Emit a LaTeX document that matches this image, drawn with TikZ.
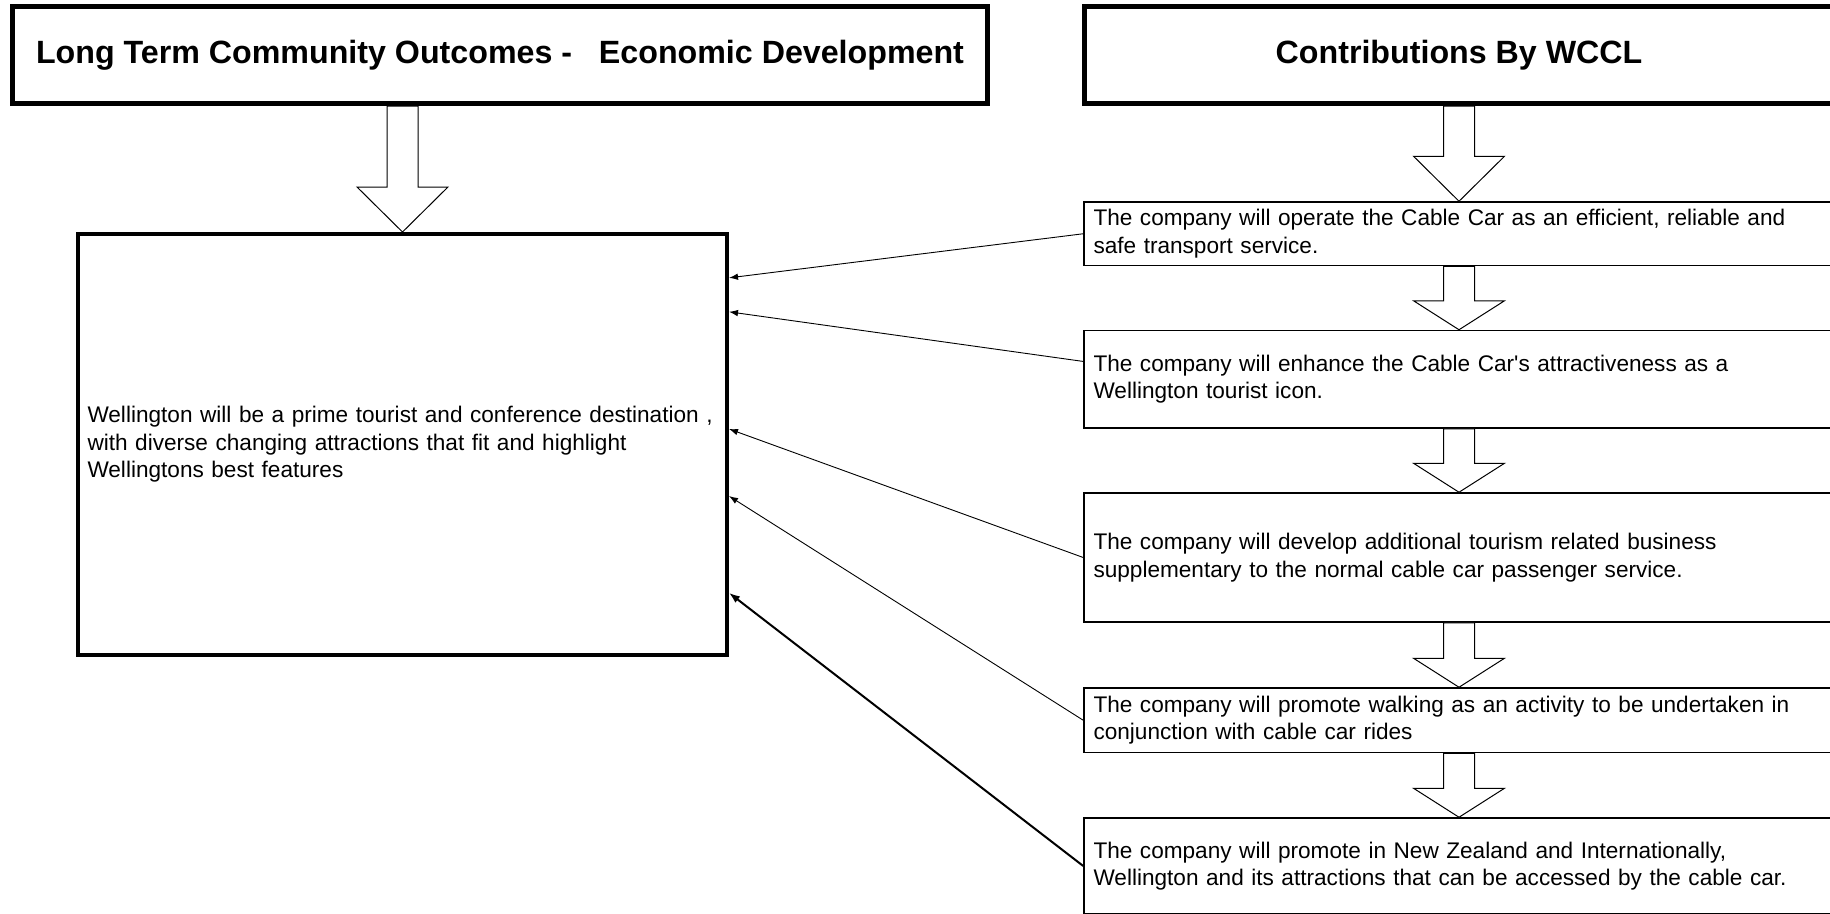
\documentclass[tikz,border=0pt]{standalone}
\usepackage{fontspec}
\setmainfont{Liberation Sans}
\usetikzlibrary{arrows.meta,calc}
\newcommand\cellfont{\fontsize{22.6}{27.5}\selectfont}
% hollow block arrow pointing down onto the target anchor; #3 = head length
\newcommand\blockdown[3]{%
  \draw[blockarrow] let \p1=(#1), \p2=(#2) in
    (\x2-15.5pt,\y1) -- (\x2-15.5pt,\y2+#3) -- (\x2-45.5pt,\y2+#3) -- (\x2,\y2)
    -- (\x2+45.5pt,\y2+#3) -- (\x2+15.5pt,\y2+#3) -- (\x2+15.5pt,\y1) -- cycle;}
\begin{document}
\begin{tikzpicture}[x=1pt,y=-1pt,
  header/.style={draw, line width=5pt, minimum width=975pt, minimum height=97pt,
    inner sep=0pt, align=center, font=\fontsize{32.2}{38}\selectfont\bfseries},
  outcome/.style={draw, line width=4pt, minimum width=649pt, minimum height=420.5pt,
    inner xsep=9.5pt, inner ysep=0pt, text width=630pt, align=left, font=\cellfont},
  contrib/.style={draw, line width=1.5pt, minimum width=750pt, inner xsep=9.5pt,
    inner ysep=0pt, text width=731pt, align=left, font=\cellfont},
  link/.style={line width=0.9pt, -{Latex[length=9pt,width=6.5pt]}},
  boldlink/.style={line width=2pt, -{Latex[length=11pt,width=8pt]}},
  blockarrow/.style={draw, line width=1pt, fill=white, line join=miter}
]
\useasboundingbox (0,0) rectangle (1830,913);
\clip (0,0) rectangle (1830,913);

% column headings
\node[header] (h1) at (500,55) {Long Term Community Outcomes -\ \ \ Economic Development};
\node[header, minimum width=749pt] (h2) at (1459,55) {Contributions By WCCL};

% community outcome
\node[outcome] (goal) at (402.5,444.25) {Wellington will be a prime tourist and conference destination ,\\
with diverse changing attractions that fit and highlight\\
Wellingtons best features};

% contributions
\node[contrib, minimum height=63.5pt] (b1) at (1459,233.75) {The company will operate the Cable Car as an efficient, reliable and\\
safe transport service.};
\node[contrib, minimum height=97.5pt] (b2) at (1459,379.25) {The company will enhance the Cable Car\textquotesingle s attractiveness as a\\
Wellington tourist icon.};
\node[contrib, minimum height=129pt] (b3) at (1459,557.5) {The company will develop additional tourism related business\\
supplementary to the normal cable car passenger service.};
\node[contrib, minimum height=64.5pt] (b4) at (1459,720.25) {The company will promote walking as an activity to be undertaken in\\
conjunction with cable car rides};
\node[contrib, minimum height=96pt] (b5) at (1459,866) {The company will promote in New Zealand and Internationally,\\
Wellington and its attractions that can be accessed by the cable car.};

% flow arrows
\blockdown{h1.south}{goal.north}{45pt}
\blockdown{h2.south}{b1.north}{45pt}
\blockdown{b1.south}{b2.north}{29pt}
\blockdown{b2.south}{b3.north}{29pt}
\blockdown{b3.south}{b4.north}{29pt}
\blockdown{b4.south}{b5.north}{29pt}

% links from each contribution to the outcome
\draw[link] (b1.west) -- ($(goal.north east)!0.108!(goal.south east)$);
\draw[link] ($(b2.north west)!0.32!(b2.south west)$) -- ($(goal.north east)!0.188!(goal.south east)$);
\draw[link] (b3.west) -- ($(goal.north east)!0.464!(goal.south east)$);
\draw[link] (b4.west) -- ($(goal.north east)!0.622!(goal.south east)$);
\draw[boldlink] (b5.west) -- ($(goal.north east)!0.850!(goal.south east)$);
\end{tikzpicture}
\end{document}
